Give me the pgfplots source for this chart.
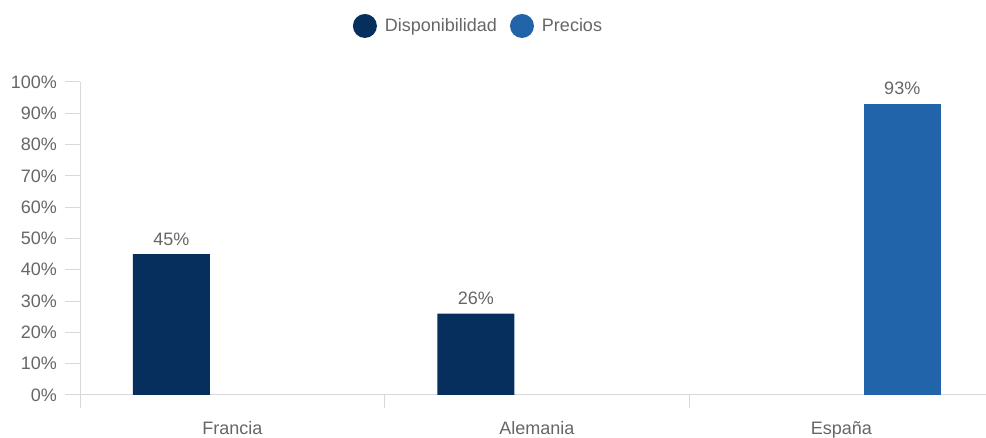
\documentclass[border=0pt]{standalone}
\usepackage{pgfplots}
\pgfplotsset{compat=1.18}
\usepackage{fontspec}
\setmainfont{Liberation Sans}
\definecolor{navy}{HTML}{062F5E}
\definecolor{midblue}{HTML}{2164AA}
\definecolor{txtgray}{HTML}{666666}
\definecolor{linegray}{HTML}{D9D9D9}
\begin{document}
\begin{tikzpicture}[x=1pt,y=1pt]
\path[use as bounding box] (0,0) rectangle (986,438);
\begin{axis}[
  at={(80pt,43pt)}, anchor=south west,
  scale only axis, width=906pt, height=313pt,
  xmin=-0.5, xmax=2.475, ymin=0, ymax=100,
  axis lines=left,
  axis line style={-, draw=linegray, line width=1pt},
  tick align=outside,
  major tick length=15pt,
  minor tick length=13pt,
  tick style={draw=linegray, line width=1pt},
  major x tick style={draw=none},
  xtick={0,1,2},
  xticklabels={Francia,Alemania,España},
  minor xtick={-0.5,0.5,1.5,2.5},
  ytick={0,10,...,100},
  yticklabel={\pgfmathprintnumber{\tick}\%},
  /pgf/number format/assume math mode=true,
  tick label style={font=\fontsize{18}{20}\selectfont, text=txtgray},
  yticklabel style={inner sep=0pt, xshift=-8pt},
  xticklabel style={inner sep=0pt, anchor=base, yshift=-25pt},
  nodes near coords={\pgfmathprintnumber{\pgfplotspointmeta}\%},
  every node near coord/.append style={font=\fontsize{18}{20}\selectfont, text=txtgray, anchor=base, inner sep=0pt, yshift=9pt},
  legend style={draw=none, fill=none, at={(0.4387,1.179)}, anchor=center,
    font=\fontsize{18}{20}\selectfont, text=txtgray,
    column sep=0pt, inner sep=0pt,
    nodes={inner sep=0pt, anchor=west},
    /tikz/every even column/.append style={column sep=13pt},
    /tikz/every odd column/.append style={column sep=8pt}},
  legend columns=2,
  legend image code/.code={\fill[#1] (12pt,0pt) circle (12pt);},
  clip=false,
]
% Disponibilidad: Francia 45, Alemania 26 (left bar of each group)
\addplot[ybar, bar width=0.253, bar shift=0, fill=navy, draw=none]
  coordinates {(-0.2,45) (0.8,26)};
\addlegendentry{Disponibilidad}
% Precios: España 93 (right bar of its group)
\addplot[ybar, bar width=0.253, bar shift=0, fill=midblue, draw=none]
  coordinates {(2.2,93)};
\addlegendentry{Precios}
\end{axis}
\end{tikzpicture}
\end{document}
